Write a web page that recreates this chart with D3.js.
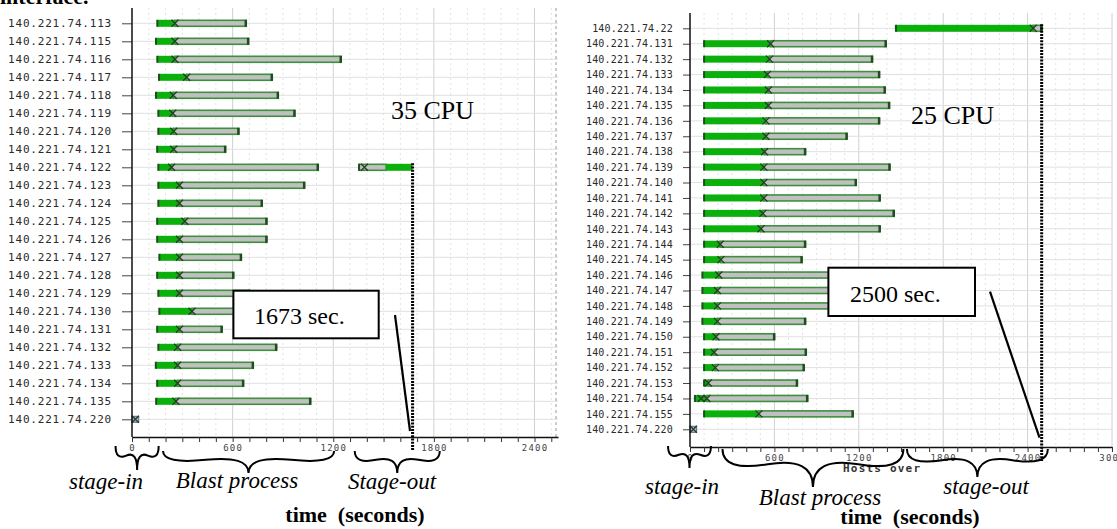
<!DOCTYPE html>
<html>
<head>
<meta charset="utf-8">
<script src="https://cdn.jsdelivr.net/npm/d3@7"></script>
<style>
  body { margin: 0; background: #fff; }
  svg { display: block; }
  .serif { font-family: "Liberation Serif", "Times New Roman", serif; fill: #000; }
</style>
</head>
<body>
<svg id="chart" width="1117" height="529"></svg>
<script>
// ---- data: 35 CPU run (left) ----
const hostsL = ['140.221.74.113','140.221.74.115','140.221.74.116','140.221.74.117','140.221.74.118',
  '140.221.74.119','140.221.74.120','140.221.74.121','140.221.74.122','140.221.74.123','140.221.74.124',
  '140.221.74.125','140.221.74.126','140.221.74.127','140.221.74.128','140.221.74.129','140.221.74.130',
  '140.221.74.131','140.221.74.132','140.221.74.133','140.221.74.134','140.221.74.135','140.221.74.220'];
const startL = [151,143,151,161,143,157,157,150,157,157,157,150,150,163,150,157,163,150,157,142,150,144,0];
const procL  = [256,256,256,326,246,243,249,249,236,283,283,315,283,283,283,283,358,283,272,272,272,262,20];
const endL   = [680,694,1246,835,871,970,636,557,1109,1028,775,803,803,651,605,700,750,536,861,722,664,1064,40];
// stage-out transfer on the collecting host
const soHost = '140.221.74.122';
const soStart = 1354, soX = 1386, soMid = 1515, soEnd = 1673;
const makespanL = 1673;

// ---- data: 25 CPU run (right) ----
const hostsR = ['140.221.74.22','140.221.74.131','140.221.74.132','140.221.74.133','140.221.74.134',
  '140.221.74.135','140.221.74.136','140.221.74.137','140.221.74.138','140.221.74.139','140.221.74.140',
  '140.221.74.141','140.221.74.142','140.221.74.143','140.221.74.144','140.221.74.145','140.221.74.146',
  '140.221.74.147','140.221.74.148','140.221.74.149','140.221.74.150','140.221.74.151','140.221.74.152',
  '140.221.74.153','140.221.74.154','140.221.74.155','140.221.74.220'];
const startR = [1464,100,100,100,100,100,100,100,100,100,100,100,100,100,100,100,88,88,88,88,100,100,100,100,35,100,0];
const procR  = [2440,573,565,550,557,557,540,540,530,525,525,525,518,505,215,220,205,195,195,195,185,172,180,130,120,490,24];
const endR   = [2500,1393,1296,1346,1386,1417,1346,1115,820,1420,1180,1350,1450,1350,820,795,1040,1040,1040,820,600,825,810,762,835,1158,47];
const extraHostR = ['140.221.74.154'];
const extraTimeR = [79];
const makespanR = 2500;

const headHost = '140.221.74.220';
const tickLabelsL = [0, 600, 1200, 1800, 2400];
const tickLabelsR = [0, 600, 1200, 1800, 2400, 3000];
const phasesL = ['stage-in', 'Blast process', 'Stage-out'];
const phasesR = ['stage-in', 'Blast process', 'stage-out'];
const phaseFromL = [-98, 185, 1328], phaseToL = [159, 1205, 1835];
const phaseFromR = [-156, 231, 1542], phaseToR = [149, 1517, 2544];

const svg = d3.select('#chart');

// cropped caption line above the figure
svg.append('text').attr('class', 'serif').attr('x', 0).attr('y', 4)
  .style('font-size', '22px').style('font-weight', 'bold').text('interface.');

function curly(x1, y, x2, w, q) {
  // horizontal brace opening upward, pointing down by w
  const len = x2 - x1;
  const qx1 = x1, qy1 = y + q * w;
  const qx2 = x1 + .25 * len, qy2 = y + (1 - q) * w;
  const tx = x1 + .5 * len, ty = y + w;
  const qx3 = x2, qy3 = y + q * w;
  const qx4 = x1 + .75 * len, qy4 = y + (1 - q) * w;
  return `M${x1},${y} Q${qx1},${qy1} ${qx2},${qy2} T${tx},${ty} M${x2},${y} Q${qx3},${qy3} ${qx4},${qy4} T${tx},${ty}`;
}

function gantt(c) {
  const x = d3.scaleLinear().domain([0, c.dom]).range([c.x0, c.x1]);
  const y = d3.scalePoint().domain(c.hosts).range([c.row0, c.rowN]);
  const g = svg.append('g');
  const bh = 6;

  // grid
  g.selectAll('line.minor').data(d3.range(100, c.dom, 100).filter(d => d % 600)).join('line')
    .attr('class', 'minor')
    .attr('x1', x).attr('x2', x).attr('y1', c.top).attr('y2', c.axisY)
    .attr('stroke', '#e3e3e3').attr('stroke-dasharray', '2,3');
  g.selectAll('line.major').data(c.labels.filter(d => d > 0)).join('line')
    .attr('class', 'major')
    .attr('x1', x).attr('x2', x).attr('y1', c.top).attr('y2', c.axisY)
    .attr('stroke', '#d0d0d0');
  g.selectAll('line.hgrid').data(c.hosts).join('line')
    .attr('class', 'hgrid')
    .attr('x1', c.x0).attr('x2', c.x1).attr('y1', y).attr('y2', y)
    .attr('stroke', '#e0e0e0');
  if (c.border) {
    g.append('line').attr('x1', c.x1 - 2).attr('x2', c.x1 - 2).attr('y1', c.top).attr('y2', c.axisY)
      .attr('stroke', '#999').attr('stroke-dasharray', '3,3');
  }

  // annotation text sits under the bars
  g.append('text').attr('class', 'serif').attr('x', c.ann.cpu[0]).attr('y', c.ann.cpu[1])
    .style('font-size', '26px').text(c.cpu);

  const rows = c.hosts.map((h, i) => ({ h, s: c.start[i], p: c.proc[i], e: c.end[i] }));
  const work = rows.filter(d => d.h !== headHost);
  const head = rows.filter(d => d.h === headHost);

  // grey blast bars
  g.selectAll('rect.proc').data(work).join('rect').attr('class', 'proc')
    .attr('x', d => x(d.p)).attr('y', d => y(d.h) - bh / 2)
    .attr('width', d => x(d.e) - x(d.p)).attr('height', bh)
    .attr('fill', '#c0c0c0').attr('stroke', '#3e8f3e').attr('stroke-width', 1.6);
  // green stage-in
  g.selectAll('rect.in').data(work).join('rect').attr('class', 'in')
    .attr('x', d => x(d.s)).attr('y', d => y(d.h) - bh / 2 - 0.5)
    .attr('width', d => x(d.p) - x(d.s)).attr('height', bh + 1)
    .attr('fill', '#0cb00c');
  g.selectAll('rect.cap0').data(work).join('rect').attr('class', 'cap0')
    .attr('x', d => x(d.s) - 1).attr('y', d => y(d.h) - bh / 2 - 0.5)
    .attr('width', 2).attr('height', bh + 1).attr('fill', '#1e4e1e');
  g.selectAll('rect.cap1').data(work).join('rect').attr('class', 'cap1')
    .attr('x', d => x(d.e) - 1.5).attr('y', d => y(d.h) - bh / 2 - 0.5)
    .attr('width', 2.5).attr('height', bh + 1).attr('fill', '#1e4e1e');

  // head node
  g.selectAll('rect.head').data(head).join('rect').attr('class', 'head')
    .attr('x', d => x(d.s)).attr('y', d => y(d.h) - bh / 2)
    .attr('width', d => x(d.e) - x(d.s)).attr('height', bh)
    .attr('fill', '#a9bdd0').attr('stroke', '#56697c');

  // stage-out bar
  if (c.so) {
    const yy = y(c.so.host) - bh / 2;
    g.append('rect').attr('x', x(c.so.start)).attr('y', yy).attr('width', x(c.so.mid) - x(c.so.start))
      .attr('height', bh).attr('fill', '#c0c0c0').attr('stroke', '#3e8f3e').attr('stroke-width', 1.6);
    g.append('rect').attr('x', x(c.so.mid)).attr('y', yy - 0.5).attr('width', x(c.so.end) - x(c.so.mid))
      .attr('height', bh + 1).attr('fill', '#0cb00c');
    g.append('rect').attr('x', x(c.so.start) - 1).attr('y', yy - 0.5).attr('width', 2).attr('height', bh + 1)
      .attr('fill', '#1e4e1e');
  }

  // markers
  const marks = rows.map(d => ({ h: d.h, t: d.p }));
  (c.extraHost || []).forEach((h, i) => marks.push({ h, t: c.extraTime[i] }));
  if (c.so) marks.push({ h: c.so.host, t: c.so.x });
  g.selectAll('path.mk').data(marks).join('path').attr('class', 'mk')
    .attr('transform', d => `translate(${x(d.t)},${y(d.h)})`)
    .attr('d', 'M-3.5,-3.5L3.5,3.5M-3.5,3.5L3.5,-3.5')
    .attr('stroke', '#2a3a2a').attr('stroke-width', 1.3).attr('fill', 'none');

  // axes
  const xAxis = d3.axisBottom(x)
    .tickValues(d3.range(0, c.dom + 1, 100))
    .tickSize(5).tickSizeOuter(0)
    .tickFormat(d => c.labels.includes(d) ? d : '');
  const ax = g.append('g').attr('transform', `translate(0,${c.axisY})`).call(xAxis);
  ax.select('.domain').attr('stroke', '#111').attr('stroke-width', 1.5);
  ax.selectAll('.tick line').attr('stroke', '#333');
  ax.selectAll('.tick text').attr('fill', '#444')
    .style('font-family', '"DejaVu Sans Mono", monospace').style('font-size', '9px')
    .style('letter-spacing', '1.2px');

  const yAxis = d3.axisLeft(y).tickSize(c.tick).tickPadding(10).tickSizeOuter(0);
  const ay = g.append('g').attr('transform', `translate(${c.x0},0)`).call(yAxis);
  ay.select('.domain').remove();
  ay.selectAll('.tick line').attr('stroke', '#444');
  ay.selectAll('.tick text').attr('fill', '#2a2a2a')
    .style('font-family', '"DejaVu Sans Mono", monospace').style('font-size', c.labelSize + 'px')
    .style('letter-spacing', c.ls + 'px');
  g.append('line').attr('x1', c.x0).attr('x2', c.x0).attr('y1', c.top).attr('y2', c.axisY)
    .attr('stroke', '#111').attr('stroke-width', 1.5);

  // makespan line
  g.append('line').attr('x1', x(c.makespan)).attr('x2', x(c.makespan))
    .attr('y1', y(c.lineFrom) - 4).attr('y2', c.axisY + 14)
    .attr('stroke', '#000').attr('stroke-width', 3).attr('stroke-dasharray', '2,1.2');

  // callout box
  const b = c.ann.box;
  g.append('rect').attr('x', b[0]).attr('y', b[1]).attr('width', b[2]).attr('height', b[3])
    .attr('fill', '#fff').attr('stroke', '#000').attr('stroke-width', 2);
  g.append('text').attr('class', 'serif').attr('x', c.ann.boxText[0]).attr('y', c.ann.boxText[1])
    .style('font-size', '24px').text(c.makespan + ' sec.');
  const l = c.ann.leader;
  g.append('line').attr('x1', l[0]).attr('y1', l[1]).attr('x2', l[2]).attr('y2', l[3])
    .attr('stroke', '#000').attr('stroke-width', 2.2);

  if (c.hint) {
    g.append('text').attr('x', c.hint[0]).attr('y', c.hint[1])
      .style('font-family', '"DejaVu Sans Mono", monospace').style('font-size', '11px')
      .style('font-weight', 'bold').style('letter-spacing', '1.2px').attr('fill', '#333').text('Hosts over');
  }

  // phase braces
  c.phases.forEach((p, i) => {
    g.append('path').attr('d', curly(x(c.from[i]), c.ann.braceTop[i], x(c.to[i]), c.ann.braceDepth[i], 0.6))
      .attr('fill', 'none').attr('stroke', '#000').attr('stroke-width', 2);
    g.append('text').attr('class', 'serif').attr('x', c.ann.phaseLabel[i][0]).attr('y', c.ann.phaseLabel[i][1])
      .attr('text-anchor', 'middle').style('font-size', '23px').style('font-style', 'italic').text(p);
  });
  g.append('text').attr('class', 'serif').attr('x', c.ann.title[0]).attr('y', c.ann.title[1])
    .attr('text-anchor', 'middle').style('font-size', '22px').style('font-weight', 'bold')
    .style('white-space', 'pre').text('time  (seconds)');
}

gantt({
  hosts: hostsL, start: startL, proc: procL, end: endL,
  so: { host: soHost, start: soStart, x: soX, mid: soMid, end: soEnd },
  makespan: makespanL, lineFrom: soHost, cpu: '35 CPU',
  labels: tickLabelsL, phases: phasesL, from: phaseFromL, to: phaseToL,
  dom: 2540, x0: 132, x1: 558, top: 8, axisY: 437, row0: 23.3, rowN: 419.3,
  tick: 10, labelSize: 11, ls: 0.8, border: true,
  ann: {
    cpu: [391, 119], box: [233.4, 290.7, 145.3, 47.6], boxText: [254, 324],
    leader: [395, 315, 410, 431],
    braceTop: [446, 451, 451], braceDepth: [24, 22, 22],
    phaseLabel: [[106, 489], [237, 488], [392, 489]], title: [355, 522]
  }
});

gantt({
  hosts: hostsR, start: startR, proc: procR, end: endR,
  extraHost: extraHostR, extraTime: extraTimeR,
  makespan: makespanR, lineFrom: hostsR[0], cpu: '25 CPU',
  labels: tickLabelsR, phases: phasesR, from: phaseFromR, to: phaseToR,
  dom: 3000, x0: 690, x1: 1112, top: 13, axisY: 447, row0: 28.3, rowN: 429.3,
  tick: 7, labelSize: 10, ls: 0.2, border: false, hint: [843, 472],
  ann: {
    cpu: [911, 124], box: [828.4, 267.7, 146.6, 48.3], boxText: [850, 302],
    leader: [990, 291.7, 1039.5, 437.7],
    braceTop: [446, 449, 449], braceDepth: [22, 38, 28],
    phaseLabel: [[682, 494], [820, 505], [986, 494]], title: [910, 524]
  }
});
</script>
</body>
</html>
